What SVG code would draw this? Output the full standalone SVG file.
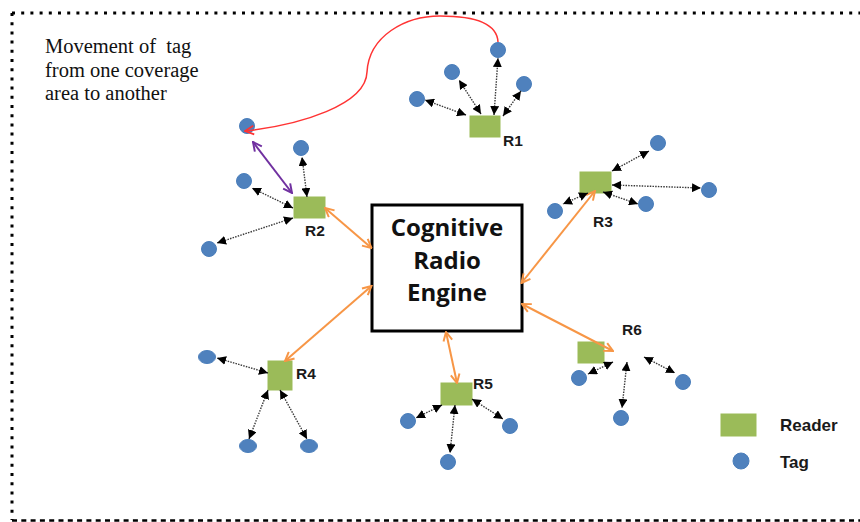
<svg xmlns="http://www.w3.org/2000/svg" width="860" height="522" viewBox="0 0 860 522">
<style>
.tag{fill:#4F81BD;stroke:#4A7EBB;stroke-width:1}
.rdr{fill:#9BBB59;stroke:#9BBB59;stroke-width:1}
.lbl{font-family:"Liberation Sans",Arial,sans-serif;font-weight:bold;font-size:15.5px;fill:#1a1a1a}
.cre{font-family:"Open Sans","Liberation Sans",sans-serif;font-weight:bold;font-size:24px;fill:#111;text-anchor:middle}
.note{font-family:"Liberation Serif","Times New Roman",serif;font-size:20.5px;fill:#111;white-space:pre}
.dot{fill:none;stroke:#3a3a3a;stroke-width:1.4;stroke-dasharray:1.5 1.2;marker-start:url(#ab);marker-end:url(#ab)}
.org{fill:none;stroke:#F79646;stroke-width:2;marker-start:url(#ao);marker-end:url(#ao)}
</style>
<defs>
<marker id="ab" viewBox="0 0 10 10" refX="10" refY="5" markerWidth="9" markerHeight="9" markerUnits="userSpaceOnUse" orient="auto-start-reverse"><path d="M0,0 L10,5 L0,10 z" fill="#000"/></marker>
<marker id="ao" viewBox="0 0 10 10" refX="9" refY="5" markerWidth="11" markerHeight="11" markerUnits="userSpaceOnUse" orient="auto-start-reverse"><path d="M1,1 L9,5 L1,9" fill="none" stroke="#F79646" stroke-width="1.8"/></marker>
<marker id="ap" viewBox="0 0 10 10" refX="9" refY="5" markerWidth="11" markerHeight="11" markerUnits="userSpaceOnUse" orient="auto-start-reverse"><path d="M1,1 L9,5 L1,9" fill="none" stroke="#7030A0" stroke-width="1.8"/></marker>
<marker id="ar" viewBox="0 0 10 10" refX="9" refY="5" markerWidth="11" markerHeight="11" markerUnits="userSpaceOnUse" orient="auto"><path d="M1,1 L9,5 L1,9" fill="none" stroke="#FF3333" stroke-width="1.6"/></marker>
</defs>
<rect width="860" height="522" fill="#fff"/>
<g id="border">
<line x1="12" y1="13" x2="860" y2="13" stroke="#000" stroke-width="3" stroke-dasharray="3 6.2"/>
<line x1="12" y1="13" x2="12" y2="520" stroke="#000" stroke-width="3" stroke-dasharray="3 6.2"/>
<line x1="12" y1="520.5" x2="860" y2="520.5" stroke="#000" stroke-width="2.5" stroke-dasharray="5 4.3"/>
</g>
<g id="note">
<text class="note" x="45" y="53" xml:space="preserve">Movement of  tag</text>
<text class="note" x="45" y="77">from one coverage</text>
<text class="note" x="45" y="100">area to another</text>
</g>
<g id="cre">
<rect x="372" y="205" width="150" height="126" fill="#fff" stroke="#000" stroke-width="3"/>
<text class="cre" x="447" y="236">Cognitive</text>
<text class="cre" x="447" y="269">Radio</text>
<text class="cre" x="447" y="301">Engine</text>
</g>
<g id="r1"><rect class="rdr" x="470" y="116" width="30" height="21"/><text class="lbl" x="503" y="146">R1</text></g>
<g id="r2"><rect class="rdr" x="294" y="197" width="31" height="21"/><text class="lbl" x="305" y="236">R2</text></g>
<g id="r3"><rect class="rdr" x="580" y="172" width="31" height="21"/><text class="lbl" x="593" y="227">R3</text></g>
<g id="r4"><rect class="rdr" x="268" y="361" width="24" height="29"/><text class="lbl" x="296" y="379">R4</text></g>
<g id="r5"><rect class="rdr" x="441" y="383" width="31" height="22"/><text class="lbl" x="473" y="389">R5</text></g>
<g id="r6"><rect class="rdr" x="578" y="342" width="26" height="21"/><text class="lbl" x="622" y="335">R6</text></g>
<g id="t1a"><circle class="tag" cx="498" cy="50" r="7.5"/></g>
<g id="t1b"><circle class="tag" cx="452" cy="72" r="7.5"/></g>
<g id="t1c"><circle class="tag" cx="524" cy="84" r="7.5"/></g>
<g id="t1d"><circle class="tag" cx="417" cy="99" r="7.5"/></g>
<g id="t2a"><circle class="tag" cx="247" cy="126" r="7.5"/></g>
<g id="t2b"><circle class="tag" cx="301" cy="148" r="7.5"/></g>
<g id="t2c"><circle class="tag" cx="244" cy="181" r="7.5"/></g>
<g id="t2d"><circle class="tag" cx="209" cy="249" r="7.5"/></g>
<g id="t3a"><circle class="tag" cx="658" cy="143" r="7.5"/></g>
<g id="t3b"><circle class="tag" cx="709" cy="190" r="7.5"/></g>
<g id="t3c"><circle class="tag" cx="646" cy="204" r="7.5"/></g>
<g id="t3d"><circle class="tag" cx="555" cy="211" r="7.5"/></g>
<g id="t4a"><ellipse class="tag" cx="207" cy="357" rx="8.5" ry="6.5"/></g>
<g id="t4b"><ellipse class="tag" cx="248" cy="446" rx="8.5" ry="6.5"/></g>
<g id="t4c"><ellipse class="tag" cx="309" cy="446" rx="8.5" ry="6.5"/></g>
<g id="t5a"><circle class="tag" cx="408" cy="421" r="7.5"/></g>
<g id="t5b"><circle class="tag" cx="510" cy="426" r="7.5"/></g>
<g id="t5c"><circle class="tag" cx="448" cy="462" r="7.5"/></g>
<g id="t6a"><circle class="tag" cx="579" cy="378" r="7.5"/></g>
<g id="t6b"><circle class="tag" cx="621" cy="418" r="7.5"/></g>
<g id="t6c"><circle class="tag" cx="683" cy="382" r="7.5"/></g>
<g id="legend">
<rect class="rdr" x="721" y="414" width="35" height="22"/>
<text class="lbl" x="780" y="431" style="font-size:17px">Reader</text>
<circle class="tag" cx="741" cy="461" r="8"/>
<text class="lbl" x="780" y="468" style="font-size:17px">Tag</text>
</g>
<g id="connectors">
<path d="M498,42 C497,22 470,16 440,16 C405,16 369,36 367,72 C366,105 300,125 245,131" fill="none" stroke="#FF3333" stroke-width="1.5" marker-end="url(#ar)"/>
<line x1="253" y1="142" x2="292" y2="193" stroke="#7030A0" stroke-width="2" marker-start="url(#ap)" marker-end="url(#ap)"/>
<line class="org" x1="325" y1="208" x2="371.5" y2="248"/>
<line class="org" x1="595" y1="191" x2="521.5" y2="283"/>
<line class="org" x1="285" y1="361" x2="371.5" y2="286"/>
<line class="org" x1="446" y1="332" x2="457" y2="383"/>
<line class="org" x1="613" y1="351" x2="522" y2="304"/>
<line class="dot" x1="466" y1="115" x2="425" y2="100"/>
<line class="dot" x1="481" y1="114" x2="459" y2="80"/>
<line class="dot" x1="494" y1="115" x2="498" y2="58"/>
<line class="dot" x1="503" y1="116" x2="521" y2="91"/>
<line class="dot" x1="307" y1="197" x2="302" y2="157"/>
<line class="dot" x1="293" y1="208" x2="252" y2="188"/>
<line class="dot" x1="293" y1="218" x2="217" y2="243"/>
<line class="dot" x1="612" y1="171" x2="649" y2="151"/>
<line class="dot" x1="612" y1="185" x2="701" y2="188"/>
<line class="dot" x1="603" y1="192" x2="638" y2="204"/>
<line class="dot" x1="588" y1="193" x2="563" y2="204"/>
<line class="dot" x1="268" y1="373" x2="217" y2="358"/>
<line class="dot" x1="268" y1="390" x2="249" y2="439"/>
<line class="dot" x1="280" y1="390" x2="307" y2="439"/>
<line class="dot" x1="442" y1="405" x2="416" y2="418"/>
<line class="dot" x1="455" y1="405" x2="450" y2="453"/>
<line class="dot" x1="472" y1="399" x2="503" y2="419"/>
<line class="dot" x1="613" y1="362" x2="588" y2="374"/>
<line class="dot" x1="627" y1="362" x2="622" y2="408"/>
<line class="dot" x1="644" y1="357" x2="675" y2="373"/>
</g>
</svg>
